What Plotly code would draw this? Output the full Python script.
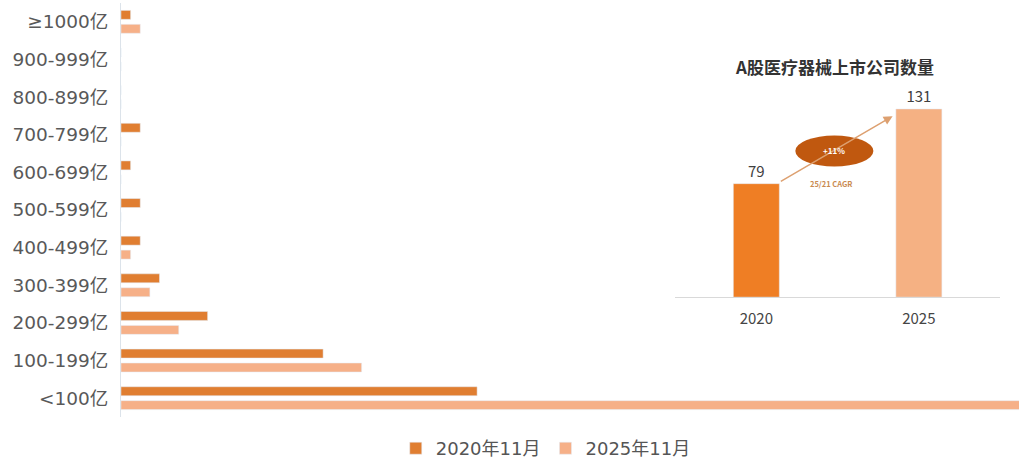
import plotly.graph_objects as go

# Market-cap buckets, listed top to bottom
categories = ["≥1000亿", "900-999亿", "800-899亿", "700-799亿", "600-699亿",
              "500-599亿", "400-499亿", "300-399亿", "200-299亿", "100-199亿", "<100亿"]
count_2020 = [1, 0, 0, 2, 1, 2, 2, 4, 9, 21, 37]
count_2025 = [2, 0, 0, 0, 0, 0, 1, 3, 6, 25, 94]
series_names = ["2020年11月", "2025年11月"]

# Inset: total number of listed medtech companies
inset_years = ["2020", "2025"]
inset_totals = [79, 131]
inset_title = "A股医疗器械上市公司数量"
cagr_text = "+11%"
cagr_note = "25/21 CAGR"

FONT = "Noto Sans CJK SC, Noto Sans, sans-serif"
LABEL_FONT = "DejaVu Sans, Noto Sans CJK SC, sans-serif"
C_DARK = "#E07E31"
C_LIGHT = "#F6B088"
C_INSET = ["#EF7E24", "#F5B183"]

fig = go.Figure()
fig.add_trace(go.Bar(y=categories, x=count_2020, orientation="h", name=series_names[0],
                     marker_color=C_DARK, xaxis="x", yaxis="y"))
fig.add_trace(go.Bar(y=categories, x=count_2025, orientation="h", name=series_names[1],
                     marker_color=C_LIGHT, xaxis="x", yaxis="y"))

bar_w = 0.283
fig.add_trace(go.Bar(x=inset_years, y=inset_totals, width=bar_w, marker_color=C_INSET,
                     text=inset_totals, texttemplate="%{text}", textposition="outside",
                     textfont=dict(size=15, color="#404040", family=FONT),
                     cliponaxis=False, showlegend=False, xaxis="x2", yaxis="y2"))

# Growth arrow between the two inset bars
fig.add_annotation(x=1 - bar_w / 2 - 0.02, y=inset_totals[1] - 5, xref="x2", yref="y2",
                   ax=bar_w / 2, ay=inset_totals[0] + 1, axref="x2", ayref="y2",
                   text="", showarrow=True, arrowhead=2, arrowsize=1.2, arrowwidth=1.5,
                   arrowcolor="#DDA070")
fig.add_shape(type="circle", xref="x2", yref="y2", x0=0.24, x1=0.72, y0=91, y1=112.5,
              fillcolor="#C0580F", line=dict(color="#C0580F", width=0))
fig.add_annotation(x=0.48, y=102, xref="x2", yref="y2", text=f"<b>{cagr_text}</b>",
                   showarrow=False, font=dict(size=8, color="white", family=FONT))
fig.add_annotation(x=0.46, y=79, xref="x2", yref="y2", text=f"<b>{cagr_note}</b>",
                   showarrow=False, font=dict(size=7.5, color="#C98A50", family=FONT))
fig.add_annotation(x=0.795, y=0.847, xref="paper", yref="paper",
                   xanchor="center", yanchor="middle", text=f"<b>{inset_title}</b>",
                   showarrow=False, font=dict(size=17, color="#333333", family=FONT))

fig.update_layout(
    width=1019, height=467,
    margin=dict(l=121, r=0, t=3, b=46),
    paper_bgcolor="white", plot_bgcolor="white",
    barmode="group", bargap=0.26, bargroupgap=0.357,
    font=dict(family=FONT, color="#595959"),
    showlegend=True,
    legend=dict(orientation="h", x=0.473, xanchor="center", y=-0.077, yanchor="middle",
                font=dict(size=18, color="#555555", family=LABEL_FONT),
                itemwidth=30, traceorder="normal"),
    xaxis=dict(range=[0, 93.3], showgrid=False, showticklabels=False, zeroline=False,
               showline=False, fixedrange=True),
    yaxis=dict(type="category", range=[10.5, -0.5], showgrid=False, showline=True,
               linecolor="#DCE3EA", linewidth=1, ticks="", ticklabelstandoff=8,
               tickfont=dict(size=18.5, color="#595959", family=LABEL_FONT)),
    xaxis2=dict(type="category", domain=[0.617, 0.979], anchor="y2", range=[-0.5, 1.5],
                showgrid=False, showline=True, linecolor="#D9D9D9", linewidth=1,
                ticks="", ticklabelstandoff=8, tickfont=dict(size=15, color="#454545")),
    yaxis2=dict(domain=[0.2895, 0.81], anchor="x2", range=[0, 150], visible=False),
)

fig.write_html("out.html")
